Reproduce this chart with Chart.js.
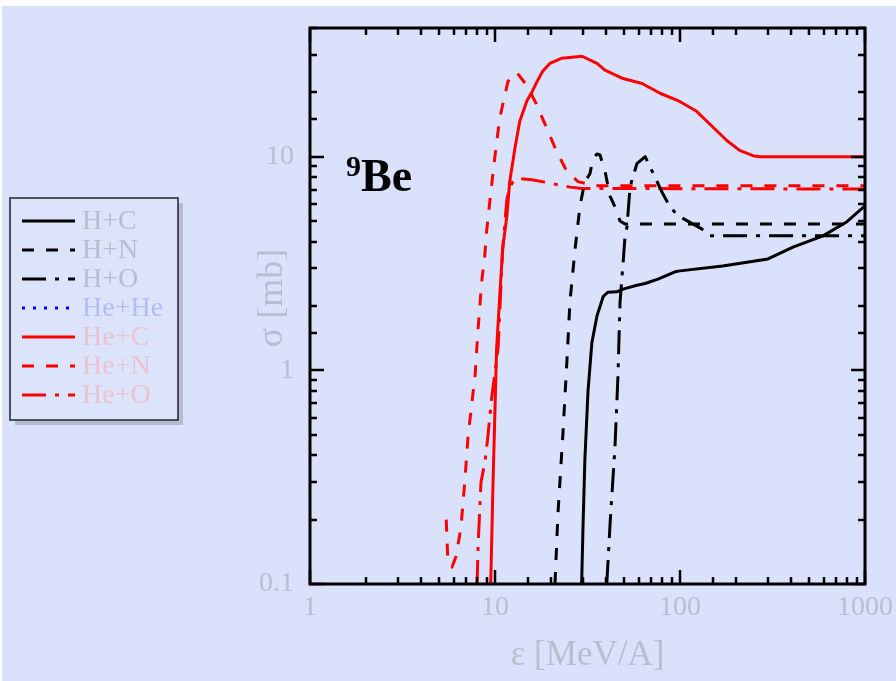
<!DOCTYPE html>
<html>
<head>
<meta charset="utf-8">
<script src="https://cdn.jsdelivr.net/npm/chart.js@4.4.1/dist/chart.umd.min.js"></script>
<style>
  html, body { margin: 0; padding: 0; background: #fff; }
  canvas { display: block; }
</style>
</head>
<body>
<canvas id="beChart" width="896" height="681"></canvas>
<script>
// 9Be production cross sections (energy in MeV/A, sigma in mb)
const hcEnergy = [29.4, 29.9, 30.6, 31.8, 33.4, 35.6, 38.5, 40.8, 45.6, 49.2, 58.5, 64.8, 76, 94, 100, 170, 299, 408, 593, 799, 1000];
const hcSigma  = [0.1, 0.185, 0.38, 0.79, 1.35, 1.80, 2.22, 2.32, 2.33, 2.40, 2.50, 2.55, 2.67, 2.89, 2.92, 3.08, 3.32, 3.77, 4.26, 4.96, 5.89];

const hnEnergy = [21.1, 21.9, 23.3, 24.6, 25.4, 27.1, 28.8, 30.6, 32.6, 33.9, 35.6, 36.9, 39.3, 41.8, 44.5, 47.4, 50.4, 1000];
const hnSigma  = [0.1, 0.215, 0.51, 1.2, 2.08, 3.70, 5.89, 7.64, 8.32, 9.8, 10.3, 10.2, 8.6, 6.56, 5.82, 5.0, 4.84, 4.84];

const hoEnergy = [40.2, 41.9, 44.5, 46.2, 47.4, 49.2, 50.4, 51.7, 53.7, 58.5, 64.8, 70.5, 80.8, 88.3, 97.5, 131, 145, 1000];
const hoSigma  = [0.1, 0.193, 0.435, 0.94, 2.08, 3.15, 4.21, 4.69, 7.23, 9.27, 10.0, 8.59, 6.70, 5.82, 5.29, 4.59, 4.26, 4.26];

const hheEnergy = [];
const hheSigma  = [];

const hecEnergy = [9.48, 9.76, 10.2, 10.6, 11.0, 11.6, 12.0, 12.8, 13.6, 14.9, 15.9, 16.9, 18.1, 19.8, 23.0, 29.5, 35.6, 39.3, 49.2, 62.4, 78, 97.5, 123, 150, 179, 210, 248, 270, 1000];
const hecSigma  = [0.1, 0.30, 1.26, 2.2, 3.7, 5.3, 7.6, 10.9, 14.6, 18.3, 20.2, 22.5, 25.1, 27.3, 28.9, 29.5, 27.3, 25.4, 23.2, 22.0, 19.8, 18.3, 16.3, 13.8, 11.9, 10.7, 10.1, 10.0, 10.0];

const henEnergy = [5.45, 5.55, 5.86, 6.16, 6.55, 6.88, 7.15, 7.51, 7.8, 8.1, 8.5, 8.8, 9.0, 9.4, 10.0, 10.6, 11.75, 13.1, 14.9, 16.7, 19.1, 21.4, 24.5, 28.1, 35, 1000];
const henSigma  = [0.2, 0.135, 0.12, 0.135, 0.185, 0.308, 0.49, 0.71, 0.94, 1.56, 2.67, 3.42, 4.43, 6.3, 10.1, 15.1, 22.5, 24.8, 21.5, 17.7, 13.5, 10.7, 8.5, 7.64, 7.3, 7.3];

const heoEnergy = [8.0, 8.1, 8.4, 8.83, 9.15, 9.6, 10.4, 11.0, 11.6, 12.0, 12.5, 13.6, 15.8, 18.6, 25.5, 29.5, 1000];
const heoSigma  = [0.1, 0.149, 0.30, 0.374, 0.49, 0.746, 1.28, 3.7, 6.35, 7.08, 7.64, 7.9, 7.8, 7.6, 7.2, 7.1, 7.05];

const seriesLabels = ['H+C', 'H+N', 'H+O', 'He+He', 'He+C', 'He+N', 'He+O'];
const xTickLabels = [1, 10, 100, 1000];
const yTickLabels = [0.1, 1, 10];

const BG = 'rgb(217,225,251)';
const GRAY = 'rgb(183,190,205)';
const SERIF = '"Liberation Serif", "Times New Roman", serif';

const DASHED = [12, 12];
const DASHDOT = [24, 9, 4, 9];
const DOTTED = [3, 8];

function pts(xs, ys) {
  return xs.map((x, i) => ({ x: x, y: ys[i] }));
}

function findTick(v, list) {
  return list.find(t => Math.abs(v - t) < t * 1e-6);
}

function isDecade(v) {
  const l = Math.log10(v);
  return Math.abs(l - Math.round(l)) < 1e-6;
}

function line(label, xs, ys, color, dash, textColor) {
  return {
    label: label,
    data: pts(xs, ys),
    borderColor: color,
    borderWidth: 3,
    borderDash: dash,
    borderJoinStyle: 'round',
    pointRadius: 0,
    tension: 0,
    fill: false,
    legendText: textColor
  };
}

const datasets = [
  line(seriesLabels[0], hcEnergy, hcSigma, '#000', [], 'rgb(185,189,201)'),
  line(seriesLabels[1], hnEnergy, hnSigma, '#000', DASHED, 'rgb(185,189,201)'),
  line(seriesLabels[2], hoEnergy, hoSigma, '#000', DASHDOT, 'rgb(185,189,201)'),
  line(seriesLabels[3], hheEnergy, hheSigma, '#0000ff', DOTTED, 'rgb(178,189,247)'),
  line(seriesLabels[4], hecEnergy, hecSigma, '#ff0000', [], 'rgb(233,195,207)'),
  line(seriesLabels[5], henEnergy, henSigma, '#ff0000', DASHED, 'rgb(233,195,207)'),
  line(seriesLabels[6], heoEnergy, heoSigma, '#ff0000', DASHDOT, 'rgb(233,195,207)')
];

// background, inward ticks, frame, the 9Be tag, y title and the boxed legend
const framePlugin = {
  id: 'frame',
  beforeDraw(chart) {
    const ctx = chart.ctx;
    ctx.save();
    ctx.fillStyle = '#fff';
    ctx.fillRect(0, 0, chart.width, chart.height);
    ctx.fillStyle = BG;
    ctx.fillRect(2, 6, chart.width - 2, chart.height - 6);
    ctx.restore();
  },
  afterDatasetsDraw(chart) {
    const { ctx, chartArea: a, scales } = chart;
    ctx.save();

    ctx.strokeStyle = '#000';
    ctx.lineWidth = 2.5;
    ctx.beginPath();
    scales.x.ticks.forEach(t => {
      const px = Math.round(scales.x.getPixelForValue(t.value));
      const len = isDecade(t.value) ? 14 : 7;
      ctx.moveTo(px, a.bottom); ctx.lineTo(px, a.bottom - len);
      ctx.moveTo(px, a.top); ctx.lineTo(px, a.top + len);
    });
    scales.y.ticks.forEach(t => {
      const py = Math.round(scales.y.getPixelForValue(t.value));
      const len = isDecade(t.value) ? 14 : 7;
      ctx.moveTo(a.left, py); ctx.lineTo(a.left + len, py);
      ctx.moveTo(a.right, py); ctx.lineTo(a.right - len, py);
    });
    ctx.stroke();

    ctx.lineWidth = 3;
    ctx.strokeRect(a.left, a.top, a.right - a.left, a.bottom - a.top);

    // nucleus tag
    ctx.fillStyle = '#000';
    ctx.textBaseline = 'alphabetic';
    ctx.textAlign = 'left';
    ctx.font = 'bold 30px ' + SERIF;
    ctx.fillText('9', 346, 176);
    ctx.font = 'bold 46px ' + SERIF;
    ctx.fillText('Be', 361, 191);

    // y axis title
    ctx.save();
    ctx.translate(273, 298);
    ctx.rotate(-Math.PI / 2);
    ctx.textAlign = 'center';
    ctx.textBaseline = 'middle';
    ctx.fillStyle = GRAY;
    ctx.font = '36px ' + SERIF;
    ctx.fillText('σ [mb]', 0, 0);
    ctx.restore();

    // legend box
    const bx = 10, by = 198, bw = 168, bh = 222;
    ctx.fillStyle = 'rgb(178,188,214)';
    ctx.fillRect(bx + 5, by + 5, bw, bh);
    ctx.fillStyle = 'rgb(220,228,251)';
    ctx.fillRect(bx, by, bw, bh);
    ctx.lineWidth = 1.5;
    ctx.strokeStyle = '#222';
    ctx.setLineDash([]);
    ctx.strokeRect(bx, by, bw, bh);

    ctx.font = '28px ' + SERIF;
    ctx.textBaseline = 'middle';
    chart.data.datasets.forEach((ds, i) => {
      const y = 221 + i * 29;
      ctx.strokeStyle = ds.borderColor;
      ctx.lineWidth = 3;
      ctx.setLineDash(ds.borderDash || []);
      ctx.beginPath();
      ctx.moveTo(22, y);
      ctx.lineTo(75, y);
      ctx.stroke();
      ctx.setLineDash([]);
      ctx.fillStyle = ds.legendText;
      ctx.fillText(ds.label, 82, y + 1);
    });

    ctx.restore();
  }
};

new Chart(document.getElementById('beChart'), {
  type: 'line',
  data: { datasets: datasets },
  options: {
    responsive: false,
    animation: false,
    layout: { padding: { left: 0, top: 28, right: 31, bottom: 0 } },
    plugins: {
      legend: { display: false },
      tooltip: { enabled: false }
    },
    scales: {
      x: {
        type: 'logarithmic',
        min: 1,
        max: 1000,
        grid: { display: false, drawTicks: false },
        border: { display: false },
        ticks: {
          autoSkip: false,
          maxRotation: 0,
          padding: 7,
          color: GRAY,
          font: { family: SERIF, size: 28 },
          callback: v => { const t = findTick(v, xTickLabels); return t === undefined ? '' : String(t); }
        },
        title: {
          display: true,
          text: 'ε [MeV/A]',
          color: GRAY,
          font: { family: SERIF, size: 35 },
          padding: { top: 0, bottom: 4 }
        },
        // fixed box sizes so the plot frame lands where the original has it
        afterFit: s => { s.height = 97; s.paddingLeft = 0; s.paddingRight = 0; }
      },
      y: {
        type: 'logarithmic',
        min: 0.1,
        max: 40,
        grid: { display: false, drawTicks: false },
        border: { display: false },
        ticks: {
          autoSkip: false,
          padding: 16,
          color: GRAY,
          font: { family: SERIF, size: 28 },
          callback: v => { const t = findTick(v, yTickLabels); return t === undefined ? '' : String(t); }
        },
        afterFit: s => { s.width = 310; s.paddingTop = 0; s.paddingBottom = 0; }
      }
    }
  },
  plugins: [framePlugin]
});
</script>
</body>
</html>
